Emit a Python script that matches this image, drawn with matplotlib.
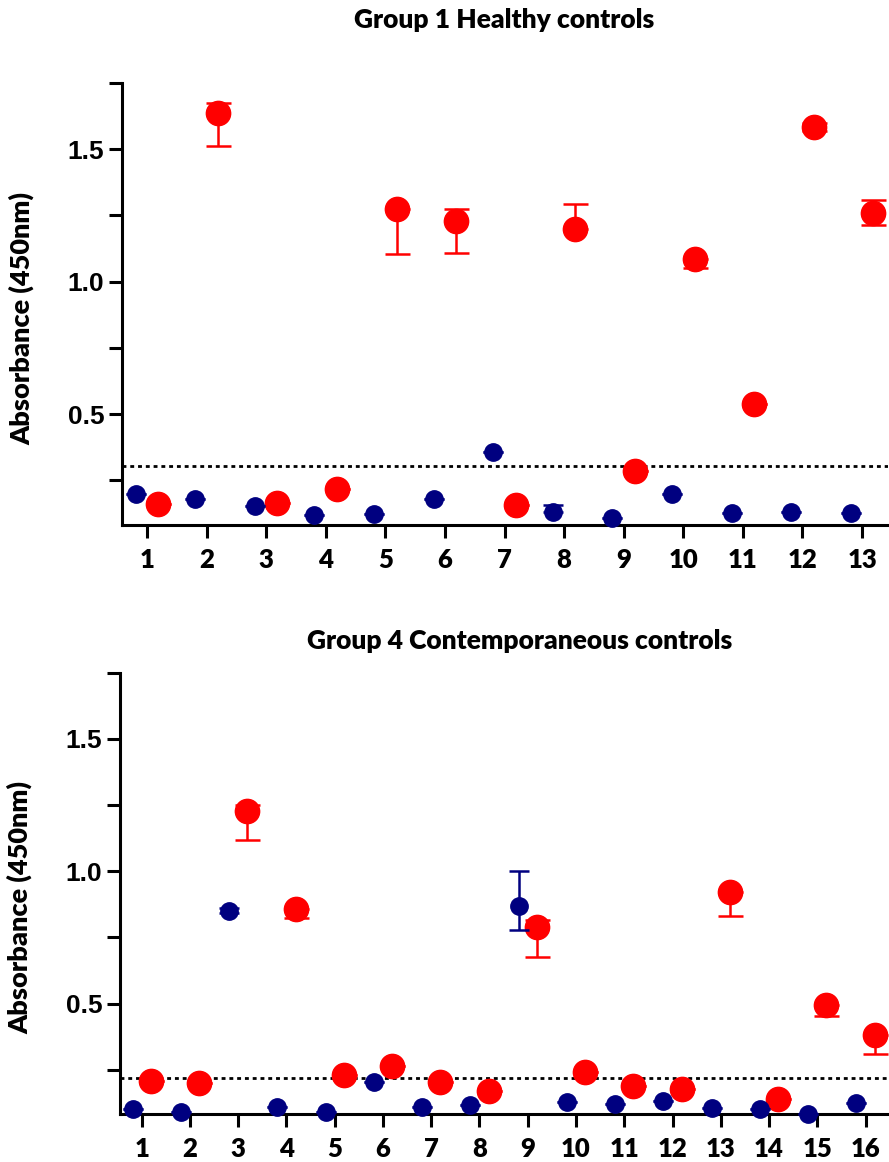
import numpy as np
import matplotlib
matplotlib.use("Agg")
import matplotlib.pyplot as plt
from matplotlib.ticker import MultipleLocator

# panel 1: Group 1 healthy controls
g1_ids = list(range(1, 14))
g1_blue = [0.200, 0.181, 0.152, 0.118, 0.125, 0.180, 0.358, 0.131, 0.110, 0.200, 0.127, 0.131, 0.129]
g1_blue_lo = [0, 0, 0, 0, 0, 0, 0, 0, 0, 0, 0, 0, 0]
g1_blue_hi = [0, 0, 0, 0, 0, 0, 0, 0.028, 0, 0, 0, 0, 0]
g1_red = [0.160, 1.636, 0.165, 0.219, 1.274, 1.229, 0.156, 1.199, 0.285, 1.086, 0.540, 1.585, 1.258]
g1_red_lo = [0, 0.124, 0, 0, 0.171, 0.120, 0, 0, 0, 0.036, 0, 0.015, 0.044]
g1_red_hi = [0, 0.040, 0, 0, 0, 0.044, 0, 0.094, 0, 0, 0, 0.015, 0.050]
g1_cutoff = 0.305

# panel 2: Group 4 contemporaneous controls
g4_ids = list(range(1, 17))
g4_blue = [0.103, 0.090, 0.851, 0.109, 0.090, 0.205, 0.111, 0.118, 0.867, 0.128, 0.121, 0.134, 0.105, 0.103, 0.084, 0.124]
g4_blue_lo = [0, 0, 0.01, 0, 0, 0, 0, 0, 0.087, 0, 0, 0, 0, 0, 0, 0]
g4_blue_hi = [0, 0, 0.01, 0, 0, 0, 0, 0, 0.134, 0, 0, 0, 0, 0, 0, 0]
g4_red = [0.208, 0.199, 1.227, 0.857, 0.230, 0.264, 0.203, 0.171, 0.788, 0.241, 0.189, 0.177, 0.922, 0.139, 0.494, 0.383]
g4_red_lo = [0, 0, 0.107, 0.035, 0, 0, 0, 0, 0.113, 0, 0, 0, 0.090, 0, 0.042, 0.073]
g4_red_hi = [0, 0, 0.025, 0, 0, 0, 0, 0, 0.028, 0, 0, 0, 0, 0, 0, 0]
g4_cutoff = 0.218

BLUE = "#000080"
RED = "#FF0000"
LW = 2.2
TXT = dict(fontfamily="Lato", fontweight="heavy")


def panel(ax, ids, blue, blo, bhi, red, rlo, rhi, cutoff, xlim):
    x = np.array(ids, dtype=float)
    ax.axhline(cutoff, color="black", lw=2.0, ls=(0, (1.4, 1.4)), zorder=1)

    # red first, blue on top
    ax.errorbar(x + 0.19, red, yerr=[rlo, rhi], fmt="none", ecolor=RED,
                elinewidth=1.8, capsize=9, capthick=1.8, zorder=2, clip_on=False)
    ax.plot(x + 0.19, red, "o", ms=17.5, color=RED, mec=RED, zorder=3, clip_on=False)
    ax.errorbar(x - 0.19, blue, yerr=[blo, bhi], fmt="none", ecolor=BLUE,
                elinewidth=1.8, capsize=7.2, capthick=1.8, zorder=4, clip_on=False)
    ax.plot(x - 0.19, blue, "o", ms=12.5, color=BLUE, mec=BLUE, zorder=5, clip_on=False)

    ax.set_xlim(*xlim)
    ax.set_ylim(0.082, 1.75)
    ax.set_xticks(ids)
    ax.set_xticklabels([str(i) for i in ids], fontsize=18.5, **TXT)
    ax.yaxis.set_minor_locator(MultipleLocator(0.25))
    ax.set_yticks([0.5, 1.0, 1.5])
    ax.set_yticklabels(["0.5", "1.0", "1.5"], fontfamily="Liberation Sans", fontweight="bold", fontsize=19)
    for s in ["top", "right"]:
        ax.spines[s].set_visible(False)
    for s in ["left", "bottom"]:
        ax.spines[s].set_linewidth(LW)
    ax.tick_params(axis="both", which="both", direction="out", length=9.4, width=LW, color="black")
    ax.tick_params(axis="x", pad=7)
    ax.tick_params(axis="y", pad=3.4)
    ax.set_ylabel("Absorbance (450nm)", fontsize=19.5, **TXT)
    ax.yaxis.set_label_coords(-0.114, 0.468)


fig = plt.figure(figsize=(8.89, 11.62), dpi=100)
ax1 = fig.add_axes([0.1372, 0.5482, 0.862, 0.3804])
ax2 = fig.add_axes([0.135, 0.0410, 0.863, 0.3801])

panel(ax1, g1_ids, g1_blue, g1_blue_lo, g1_blue_hi, g1_red, g1_red_lo, g1_red_hi, g1_cutoff, (0.58, 13.44))
panel(ax2, g4_ids, g4_blue, g4_blue_lo, g4_blue_hi, g4_red, g4_red_lo, g4_red_hi, g4_cutoff, (0.55, 16.45))

fig.text(504 / 889, 1 - 20 / 1162, "Group 1 Healthy controls", ha="center", va="center",
         fontsize=19, **TXT)
fig.text(520 / 889, 1 - 641 / 1162, "Group 4 Contemporaneous controls", ha="center", va="center",
         fontsize=19, **TXT)

fig.savefig("out.png", dpi=100)
